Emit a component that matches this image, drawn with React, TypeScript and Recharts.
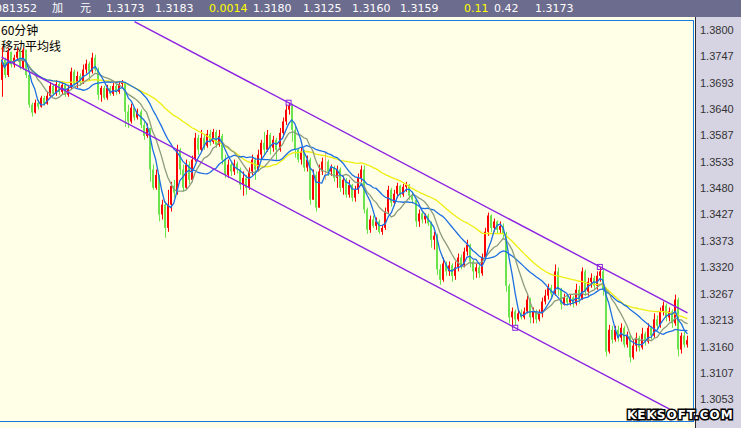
import React from "react";
import { ComposedChart, Bar, Line, XAxis, YAxis, ReferenceLine, ReferenceDot } from "recharts";

// 60-minute bars: open of the first bar, then close / high / low of each bar
const firstOpen = 1.3699;

const closes = [
  1.3740, 1.3709, 1.3756, 1.3730, 1.3744, 1.3756, 1.3724, 1.3760, 1.3709, 1.3649,
  1.3633, 1.3653, 1.3645, 1.3663, 1.3651, 1.3667, 1.3687, 1.3671, 1.3691, 1.3675,
  1.3689, 1.3669, 1.3683, 1.3716, 1.3691, 1.3707, 1.3695, 1.3720, 1.3732, 1.3716,
  1.3744, 1.3720, 1.3669, 1.3683, 1.3663, 1.3683, 1.3671, 1.3687, 1.3675, 1.3691,
  1.3695, 1.3635, 1.3615, 1.3643, 1.3623, 1.3635, 1.3608, 1.3586, 1.3602, 1.3518,
  1.3481, 1.3507, 1.3427, 1.3447, 1.3400, 1.3447, 1.3485, 1.3471, 1.3558, 1.3518,
  1.3481, 1.3528, 1.3497, 1.3538, 1.3582, 1.3558, 1.3582, 1.3566, 1.3590, 1.3574,
  1.3594, 1.3568, 1.3586, 1.3538, 1.3507, 1.3528, 1.3514, 1.3530, 1.3518, 1.3487,
  1.3501, 1.3481, 1.3514, 1.3538, 1.3518, 1.3548, 1.3572, 1.3558, 1.3588, 1.3562,
  1.3578, 1.3558, 1.3592, 1.3615, 1.3639, 1.3647, 1.3598, 1.3558, 1.3538, 1.3554,
  1.3522, 1.3538, 1.3457, 1.3507, 1.3441, 1.3514, 1.3534, 1.3534, 1.3514, 1.3522,
  1.3501, 1.3518, 1.3481, 1.3497, 1.3467, 1.3487, 1.3461, 1.3477, 1.3501, 1.3518,
  1.3437, 1.3396, 1.3417, 1.3404, 1.3413, 1.3392, 1.3400, 1.3433, 1.3477, 1.3451,
  1.3469, 1.3485, 1.3467, 1.3483, 1.3487, 1.3465, 1.3457, 1.3413, 1.3429, 1.3417,
  1.3425, 1.3409, 1.3376, 1.3384, 1.3316, 1.3295, 1.3328, 1.3312, 1.3324, 1.3303,
  1.3320, 1.3340, 1.3324, 1.3352, 1.3366, 1.3332, 1.3312, 1.3320, 1.3308, 1.3340,
  1.3392, 1.3425, 1.3400, 1.3413, 1.3396, 1.3404, 1.3388, 1.3283, 1.3219, 1.3231,
  1.3215, 1.3227, 1.3219, 1.3231, 1.3255, 1.3219, 1.3231, 1.3215, 1.3227, 1.3251,
  1.3263, 1.3279, 1.3267, 1.3312, 1.3275, 1.3245, 1.3259, 1.3249, 1.3259, 1.3247,
  1.3275, 1.3255, 1.3312, 1.3271, 1.3291, 1.3299, 1.3283, 1.3303, 1.3312, 1.3275,
  1.3150, 1.3194, 1.3174, 1.3194, 1.3178, 1.3198, 1.3164, 1.3182, 1.3138, 1.3162,
  1.3178, 1.3158, 1.3186, 1.3170, 1.3198, 1.3182, 1.3215, 1.3202, 1.3231, 1.3243,
  1.3219, 1.3231, 1.3207, 1.3255, 1.3154, 1.3182, 1.3164, 1.3173,
];

const highs = [
  1.3766, 1.3744, 1.3764, 1.3756, 1.3750, 1.3764, 1.3760, 1.3764, 1.3760, 1.3714,
  1.3653, 1.3659, 1.3659, 1.3667, 1.3667, 1.3675, 1.3695, 1.3691, 1.3699, 1.3695,
  1.3695, 1.3691, 1.3689, 1.3724, 1.3720, 1.3716, 1.3712, 1.3730, 1.3740, 1.3736,
  1.3754, 1.3750, 1.3724, 1.3687, 1.3687, 1.3689, 1.3687, 1.3693, 1.3691, 1.3697,
  1.3699, 1.3695, 1.3649, 1.3651, 1.3643, 1.3641, 1.3639, 1.3615, 1.3611, 1.3602,
  1.3528, 1.3518, 1.3507, 1.3457, 1.3453, 1.3477, 1.3493, 1.3497, 1.3568, 1.3562,
  1.3528, 1.3538, 1.3534, 1.3546, 1.3592, 1.3588, 1.3598, 1.3590, 1.3598, 1.3598,
  1.3600, 1.3598, 1.3598, 1.3590, 1.3548, 1.3538, 1.3532, 1.3538, 1.3534, 1.3522,
  1.3514, 1.3507, 1.3522, 1.3548, 1.3542, 1.3558, 1.3578, 1.3594, 1.3598, 1.3592,
  1.3586, 1.3582, 1.3602, 1.3623, 1.3649, 1.3653, 1.3651, 1.3608, 1.3562, 1.3562,
  1.3558, 1.3546, 1.3542, 1.3518, 1.3514, 1.3528, 1.3542, 1.3554, 1.3538, 1.3528,
  1.3526, 1.3526, 1.3522, 1.3505, 1.3501, 1.3497, 1.3489, 1.3485, 1.3510, 1.3526,
  1.3526, 1.3441, 1.3425, 1.3425, 1.3421, 1.3417, 1.3406, 1.3441, 1.3485, 1.3481,
  1.3477, 1.3491, 1.3487, 1.3489, 1.3493, 1.3489, 1.3473, 1.3457, 1.3437, 1.3433,
  1.3429, 1.3429, 1.3413, 1.3392, 1.3388, 1.3326, 1.3340, 1.3332, 1.3332, 1.3328,
  1.3332, 1.3348, 1.3346, 1.3360, 1.3376, 1.3368, 1.3336, 1.3328, 1.3326, 1.3348,
  1.3400, 1.3431, 1.3427, 1.3419, 1.3415, 1.3413, 1.3409, 1.3392, 1.3287, 1.3239,
  1.3235, 1.3235, 1.3235, 1.3239, 1.3263, 1.3259, 1.3239, 1.3235, 1.3235, 1.3259,
  1.3275, 1.3287, 1.3285, 1.3326, 1.3320, 1.3279, 1.3267, 1.3263, 1.3265, 1.3263,
  1.3287, 1.3283, 1.3320, 1.3316, 1.3299, 1.3308, 1.3303, 1.3312, 1.3320, 1.3316,
  1.3279, 1.3204, 1.3202, 1.3202, 1.3202, 1.3207, 1.3202, 1.3190, 1.3186, 1.3174,
  1.3188, 1.3182, 1.3198, 1.3190, 1.3207, 1.3202, 1.3227, 1.3223, 1.3239, 1.3251,
  1.3247, 1.3239, 1.3235, 1.3265, 1.3259, 1.3188, 1.3190, 1.3182,
];

const lows = [
  1.3665, 1.3703, 1.3705, 1.3724, 1.3724, 1.3740, 1.3720, 1.3720, 1.3703, 1.3643,
  1.3625, 1.3631, 1.3639, 1.3643, 1.3647, 1.3649, 1.3665, 1.3667, 1.3667, 1.3669,
  1.3669, 1.3665, 1.3665, 1.3679, 1.3687, 1.3683, 1.3687, 1.3691, 1.3712, 1.3699,
  1.3712, 1.3716, 1.3659, 1.3655, 1.3659, 1.3659, 1.3667, 1.3667, 1.3669, 1.3671,
  1.3683, 1.3604, 1.3602, 1.3611, 1.3617, 1.3619, 1.3602, 1.3578, 1.3582, 1.3493,
  1.3477, 1.3477, 1.3413, 1.3417, 1.3380, 1.3392, 1.3433, 1.3461, 1.3467, 1.3507,
  1.3473, 1.3477, 1.3489, 1.3493, 1.3534, 1.3548, 1.3554, 1.3558, 1.3562, 1.3566,
  1.3570, 1.3562, 1.3564, 1.3528, 1.3501, 1.3501, 1.3505, 1.3507, 1.3510, 1.3477,
  1.3465, 1.3467, 1.3477, 1.3507, 1.3497, 1.3514, 1.3538, 1.3546, 1.3554, 1.3548,
  1.3554, 1.3538, 1.3554, 1.3586, 1.3608, 1.3629, 1.3574, 1.3542, 1.3532, 1.3528,
  1.3514, 1.3514, 1.3447, 1.3457, 1.3433, 1.3441, 1.3507, 1.3497, 1.3505, 1.3505,
  1.3493, 1.3481, 1.3473, 1.3467, 1.3461, 1.3461, 1.3453, 1.3453, 1.3469, 1.3493,
  1.3429, 1.3388, 1.3390, 1.3400, 1.3396, 1.3388, 1.3386, 1.3396, 1.3429, 1.3443,
  1.3445, 1.3461, 1.3461, 1.3463, 1.3473, 1.3457, 1.3449, 1.3402, 1.3402, 1.3409,
  1.3409, 1.3404, 1.3360, 1.3356, 1.3305, 1.3285, 1.3291, 1.3303, 1.3303, 1.3291,
  1.3295, 1.3312, 1.3316, 1.3320, 1.3344, 1.3320, 1.3295, 1.3299, 1.3299, 1.3303,
  1.3336, 1.3384, 1.3392, 1.3392, 1.3388, 1.3388, 1.3380, 1.3271, 1.3207, 1.3198,
  1.3202, 1.3211, 1.3215, 1.3215, 1.3227, 1.3207, 1.3207, 1.3207, 1.3211, 1.3219,
  1.3245, 1.3255, 1.3259, 1.3263, 1.3263, 1.3235, 1.3243, 1.3243, 1.3243, 1.3239,
  1.3243, 1.3247, 1.3255, 1.3263, 1.3263, 1.3279, 1.3275, 1.3275, 1.3291, 1.3263,
  1.3140, 1.3146, 1.3166, 1.3170, 1.3170, 1.3170, 1.3158, 1.3158, 1.3128, 1.3134,
  1.3150, 1.3150, 1.3154, 1.3162, 1.3166, 1.3174, 1.3178, 1.3194, 1.3198, 1.3223,
  1.3211, 1.3211, 1.3198, 1.3202, 1.3140, 1.3146, 1.3158, 1.3158,
];

const priceTicks = [
  1.38, 1.3747, 1.3693, 1.364, 1.3587, 1.3533, 1.348, 1.3427,
  1.3373, 1.332, 1.3267, 1.3213, 1.316, 1.3107, 1.3053,
];

// moving-average periods, drawn slowest first
const maLines = [
  { period: 40, color: "#eeee10" },
  { period: 20, color: "#1c6fe3" },
  { period: 10, color: "#8c9c7e" },
  { period: 5, color: "#1c6fe3" },
];

// trend channel (bar index, price)
const upperChannel = [{ i: 44, p: 1.3817 }, { i: 227, p: 1.3228 }];
const lowerChannel = [{ i: 0, p: 1.3745 }, { i: 225, p: 1.3021 }];
const channelAnchors = [
  { i: 95, p: 1.3653 },
  { i: 198, p: 1.3321 },
  { i: 170, p: 1.3198 },
];

const quoteFields = [
  "081352", "加", "元", "1.3173", "1.3183", "0.0014", "1.3180",
  "1.3125", "1.3160", "1.3159", "0.11", "0.42", "1.3173",
];
const quoteChange = [5, 10]; // fields shown in yellow

const quoteLeft = [-5, 52, 80, 106, 155, 209, 253, 303, 352, 400, 464, 494, 535];

const chartTitles = ["60分钟", "移动平均线"];

const UP = "#ff0000";
const DOWN = "#6ae34c";
const FLAT = "#f2aa6a";
const CHANNEL = "#8b22e3";

const W = 741;
const H = 428;

function movingAverage(period: number, i: number) {
  const from = Math.max(0, i - period + 1);
  let sum = 0;
  for (let k = from; k <= i; k++) sum += closes[k];
  return sum / (i - from + 1);
}

const rows = closes.map((c, i) => {
  const row: Record<string, any> = {
    i,
    o: i === 0 ? firstOpen : closes[i - 1],
    c,
    h: highs[i],
    l: lows[i],
    range: [lows[i], highs[i]],
  };
  maLines.forEach((m) => {
    row["ma" + m.period] = movingAverage(m.period, i);
  });
  return row;
});

function Candle(props: any) {
  const { x, y, width, height, payload } = props;
  if (x == null || y == null) return null;
  const top = Math.min(y, y + height);
  const span = Math.abs(height);
  const { o, c, h, l } = payload;
  const toY = (v: number) => (h === l ? top : top + ((h - v) / (h - l)) * span);
  const cx = Math.round(x + width / 2);
  const color = c > o ? UP : c < o ? DOWN : FLAT;
  const bodyTop = toY(Math.max(o, c));
  const bodyBottom = toY(Math.min(o, c));
  return (
    <g>
      <rect x={cx} y={top} width={1} height={Math.max(span, 1)} fill={color} />
      {c !== o && (
        <rect x={cx - 1} y={bodyTop} width={2} height={Math.max(bodyBottom - bodyTop, 1)} fill={color} />
      )}
    </g>
  );
}

function AnchorMark(props: any) {
  const { cx, cy } = props;
  return <rect x={cx - 2.5} y={cy - 2.5} width={5} height={5} fill="none" stroke={CHANNEL} strokeWidth={1} />;
}

function PriceTick(props: any) {
  const { y, payload } = props;
  return (
    <text x={700} y={y} dy={4} fontSize={11} fill="#333" fontFamily="'Liberation Sans', Arial, sans-serif">
      {payload.value.toFixed(4)}
    </text>
  );
}

export default function App() {
  return (
    <div style={{ position: "fixed", left: 0, top: 0, width: W, height: H, background: "#fffee6", overflow: "hidden" }}>
      {/* quote line */}
      <div style={{ position: "absolute", left: 0, top: 0, width: W, height: 17, background: "#6c6c8e" }}>
        {quoteFields.map((t, k) => (
          <span
            key={k}
            style={{
              position: "absolute",
              left: quoteLeft[k],
              top: 2,
              fontSize: 11,
              lineHeight: "13px",
              whiteSpace: "nowrap",
              color: quoteChange.includes(k) ? "#ffff00" : "#ffffff",
              fontFamily: "'DejaVu Sans', 'Noto Sans CJK SC', sans-serif",
            }}
          >
            {t}
          </span>
        ))}
      </div>

      {/* price scale panel */}
      <div style={{ position: "absolute", left: 695, top: 17, width: W - 695, height: H - 17, background: "#d6d3e3", borderLeft: "1px solid #2a2a3a" }} />

      {chartTitles.map((t, k) => (
        <div
          key={t}
          style={{
            position: "absolute",
            left: 1,
            top: 22 + k * 16,
            height: 15,
            fontSize: 12,
            lineHeight: "15px",
            color: "#000",
            whiteSpace: "nowrap",
            fontFamily: "'Noto Sans CJK SC', sans-serif",
          }}
        >
          {t}
        </div>
      ))}

      <ComposedChart
        width={W}
        height={H}
        data={rows}
        margin={{ top: 20, right: 0, bottom: 6, left: 0 }}
        barCategoryGap={0}
        style={{ position: "absolute", left: 0, top: 0 }}
      >
        <XAxis dataKey="i" type="category" hide />
        <YAxis
          orientation="right"
          width={52}
          domain={[1.30075, 1.38202]}
          allowDataOverflow
          ticks={priceTicks}
          tick={<PriceTick />}
          tickLine={false}
          axisLine={false}
        />
        <Bar dataKey="range" shape={<Candle />} isAnimationActive={false} />
        {maLines.map((m) => (
          <Line
            key={m.period}
            type="linear"
            dataKey={"ma" + m.period}
            stroke={m.color}
            strokeWidth={1.3}
            dot={false}
            activeDot={false}
            isAnimationActive={false}
          />
        ))}
        <ReferenceLine
          segment={upperChannel.map((pt) => ({ x: pt.i, y: pt.p }))}
          stroke={CHANNEL}
          strokeWidth={1.4}
          ifOverflow="visible"
        />
        <ReferenceLine
          segment={lowerChannel.map((pt) => ({ x: pt.i, y: pt.p }))}
          stroke={CHANNEL}
          strokeWidth={1.4}
          ifOverflow="visible"
        />
        {channelAnchors.map((a) => (
          <ReferenceDot key={a.i} x={a.i} y={a.p} shape={<AnchorMark />} ifOverflow="visible" />
        ))}
      </ComposedChart>

      {/* plot frame */}
      <div style={{ position: "absolute", left: -1, top: 20, width: 695, height: 402, boxSizing: "border-box", border: "1px solid #1a7ae0", pointerEvents: "none" }} />

      <svg width={W} height={H} style={{ position: "absolute", left: 0, top: 0, pointerEvents: "none" }}>
        <text
          x={627}
          y={419}
          fontSize={12}
          fontWeight="bold"
          letterSpacing={1}
          fill="#ffffff"
          stroke="#000000"
          strokeWidth={3}
          paintOrder="stroke"
          fontFamily="'DejaVu Sans', sans-serif"
        >
          KEKSOFT.COM
        </text>
      </svg>
    </div>
  );
}
